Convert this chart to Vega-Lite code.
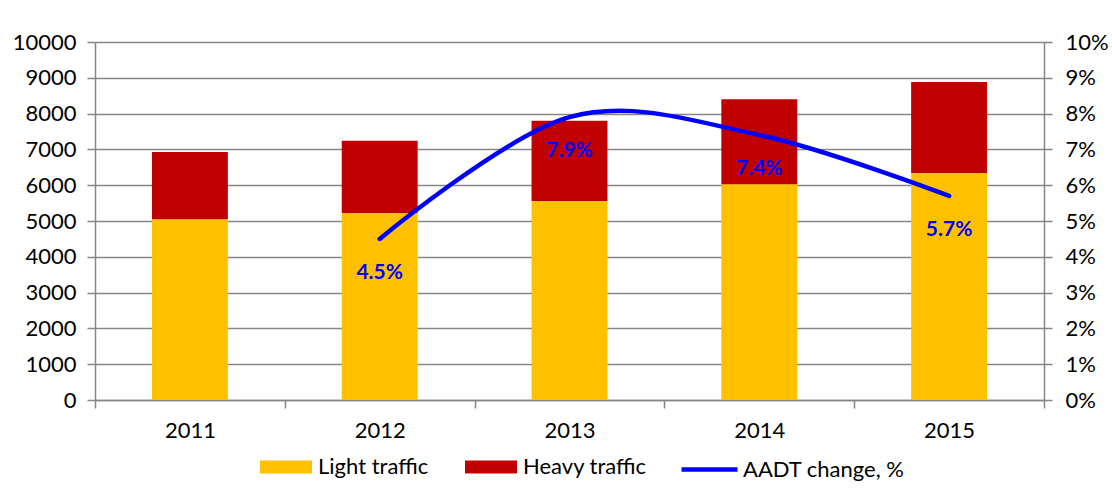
{
  "$schema": "https://vega.github.io/schema/vega-lite/v6.json",
  "width": 949,
  "height": 358,
  "autosize": {"type": "none"},
  "padding": {"left": 95, "top": 42, "right": 68, "bottom": 98},
  "background": "white",
  "config": {
    "font": "Lato",
    "view": {"stroke": null},
    "axis": {"labelFont": "Lato", "labelFontSize": 22, "labelColor": "#000000", "domainColor": "#868686", "tickColor": "#868686", "gridColor": "#868686", "domainWidth": 1.5, "tickWidth": 1.5, "gridWidth": 1.5, "labelOverlap": false},
    "legend": {"labelFont": "Lato", "labelFontSize": 22, "labelColor": "#000000", "labelLimit": 400}
  },
  "datasets": {
    "traffic": [
      {"year": "2011", "type": "Light traffic", "vehicles": 5050},
      {"year": "2011", "type": "Heavy traffic", "vehicles": 1880},
      {"year": "2012", "type": "Light traffic", "vehicles": 5220},
      {"year": "2012", "type": "Heavy traffic", "vehicles": 2020},
      {"year": "2013", "type": "Light traffic", "vehicles": 5560},
      {"year": "2013", "type": "Heavy traffic", "vehicles": 2240},
      {"year": "2014", "type": "Light traffic", "vehicles": 6030},
      {"year": "2014", "type": "Heavy traffic", "vehicles": 2370},
      {"year": "2015", "type": "Light traffic", "vehicles": 6340},
      {"year": "2015", "type": "Heavy traffic", "vehicles": 2540}
    ],
    "change": [
      {"year": "2012", "series": "AADT change, %", "change": 0.045, "label": "4.5%"},
      {"year": "2013", "series": "AADT change, %", "change": 0.079, "label": "7.9%"},
      {"year": "2014", "series": "AADT change, %", "change": 0.074, "label": "7.4%"},
      {"year": "2015", "series": "AADT change, %", "change": 0.057, "label": "5.7%"}
    ]
  },
  "encoding": {
    "x": {
      "field": "year", "type": "nominal",
      "scale": {"domain": ["2011", "2012", "2013", "2014", "2015"], "paddingInner": 0, "paddingOuter": 0},
      "axis": {"title": null, "labelAngle": 0, "tickBand": "extent", "tickSize": 8, "labelPadding": 12, "domain": true}
    }
  },
  "layer": [
    {
      "data": {"name": "traffic"},
      "mark": {"type": "bar", "width": {"band": 0.4}},
      "encoding": {
        "y": {
          "field": "vehicles", "type": "quantitative", "stack": "zero",
          "scale": {"domain": [0, 10000]},
          "axis": {"title": null, "orient": "left", "values": [0,1000,2000,3000,4000,5000,6000,7000,8000,9000,10000], "grid": true, "tickSize": 8, "labelPadding": 11, "format": "d"}
        },
        "fill": {
          "field": "type", "type": "nominal", "sort": ["Light traffic", "Heavy traffic"],
          "scale": {"domain": ["Light traffic", "Heavy traffic"], "range": ["#FFC000", "#C00000"]},
          "legend": {"title": null, "orient": "none", "legendX": 165, "legendY": 399, "direction": "horizontal", "symbolType": "M-1,-0.25H1V0.25H-1Z", "symbolSize": 2704, "symbolStrokeWidth": 0, "columnPadding": 36, "labelOffset": 6}
        },
        "order": {"field": "type", "sort": "descending"}
      }
    },
    {
      "data": {"name": "change"},
      "encoding": {
        "y": {
          "field": "change", "type": "quantitative",
          "scale": {"domain": [0, 0.1]},
          "axis": {"title": null, "orient": "right", "values": [0,0.01,0.02,0.03,0.04,0.05,0.06,0.07,0.08,0.09,0.1], "format": ".0%", "grid": false, "tickSize": 8, "labelPadding": 13}
        }
      },
      "layer": [
        {
          "mark": {"type": "line", "interpolate": "cardinal", "strokeWidth": 4.5, "strokeCap": "round"},
          "encoding": {
            "stroke": {
              "field": "series", "type": "nominal",
              "scale": {"domain": ["AADT change, %"], "range": ["#0000FF"]},
              "legend": {"title": null, "orient": "none", "legendX": 584, "legendY": 397, "symbolType": "stroke", "symbolSize": 3136, "symbolStrokeWidth": 4.5, "labelOffset": 3}
            }
          }
        },
        {
          "mark": {"type": "text", "fontWeight": "bold", "fontSize": 21, "color": "#0000FF", "dy": 34, "baseline": "middle", "font": "Lato"},
          "encoding": {"text": {"field": "label"}}
        }
      ]
    }
  ],
  "resolve": {"scale": {"y": "independent"}}
}
